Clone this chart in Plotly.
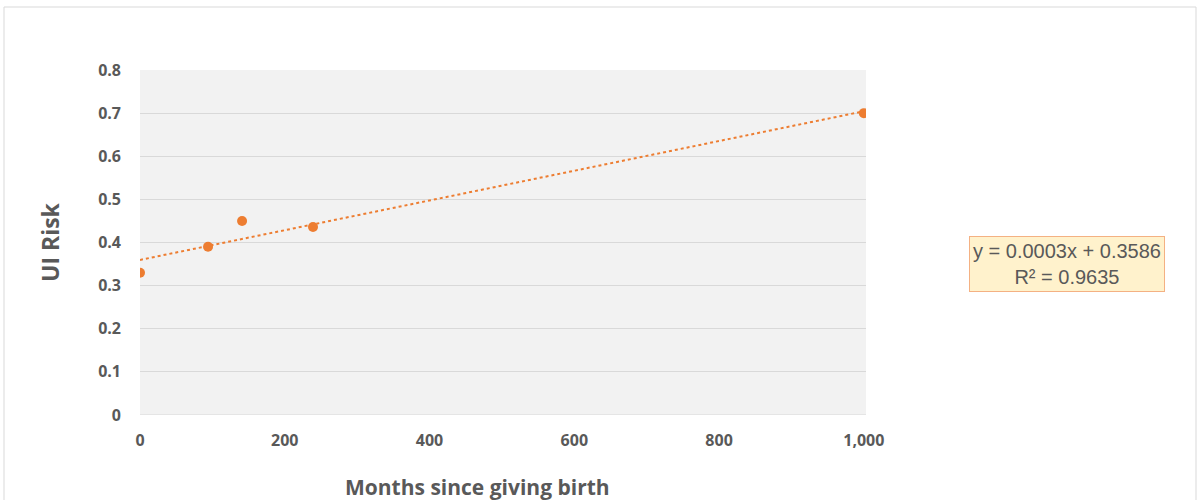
import numpy as np
import plotly.graph_objects as go

months = [0, 94, 141, 239, 1000]
ui_risk = [0.33, 0.39, 0.45, 0.436, 0.70]
x_ticks = [0, 200, 400, 600, 800, 1000]
y_ticks = [0, 0.1, 0.2, 0.3, 0.4, 0.5, 0.6, 0.7, 0.8]
y_tick_text = ["0", "0.1", "0.2", "0.3", "0.4", "0.5", "0.6", "0.7", "0.8"]
equation_text = "y = 0.0003x + 0.3586<br>R² = 0.9635"

slope, intercept = np.polyfit(months, ui_risk, 1)
trend_x = [min(months), max(months)]
trend_y = [slope * v + intercept for v in trend_x]

ORANGE = "#ED7D31"
W, H = 1200, 500
L, R, T, B = 140, 334, 70, 85
pw = W - L - R
ph = H - T - B

def px(xp):
    return (xp - L) / pw

def py(yp):
    return (H - B - yp) / ph

fig = go.Figure()
fig.add_trace(go.Scatter(x=trend_x, y=trend_y, mode="lines",
                         line=dict(color=ORANGE, width=2, dash="dot"),
                         hoverinfo="skip", showlegend=False))
fig.add_trace(go.Scatter(x=months, y=ui_risk, mode="markers",
                         marker=dict(color=ORANGE, size=10),
                         showlegend=False))

FONT = "Open Sans, Arial, sans-serif"
tick_font = dict(family=FONT, size=16, color="#595959", weight="bold")

fig.update_layout(
    width=W, height=H,
    margin=dict(l=L, r=R, t=T, b=B),
    paper_bgcolor="white",
    plot_bgcolor="#F2F2F2",
    xaxis=dict(range=[0, 1003], tickvals=x_ticks, tickformat=",d",
               showgrid=False, zeroline=False, showline=False,
               ticks="", tickfont=tick_font, ticklabelstandoff=14),
    yaxis=dict(range=[0, 0.8], tickvals=y_ticks, ticktext=y_tick_text,
               showgrid=True, gridcolor="#D9D9D9", gridwidth=1,
               zeroline=False, showline=False,
               ticks="", tickfont=tick_font, ticklabelstandoff=18),
    font=dict(family=FONT),
    shapes=[
        dict(type="rect", xref="paper", yref="paper",
             x0=px(4), x1=px(1196), y0=py(510), y1=py(7),
             line=dict(color="#D9D9D9", width=1), fillcolor="rgba(0,0,0,0)", layer="below"),
        dict(type="line", xref="paper", yref="y", x0=0, x1=1, y0=0, y1=0,
             line=dict(color="#D9D9D9", width=1), layer="below"),
    ],
    annotations=[
        dict(text="UI Risk", xref="paper", yref="paper", x=px(50), y=py(242),
             textangle=-90, showarrow=False, xanchor="center", yanchor="middle",
             font=dict(family=FONT, size=23, color="#595959", weight="bold")),
        dict(text="Months since giving birth", xref="paper", yref="paper", x=px(477), y=py(487),
             showarrow=False, xanchor="center", yanchor="middle",
             font=dict(family=FONT, size=21, color="#595959", weight="bold")),
        dict(text=equation_text, xref="paper", yref="paper", x=px(1067), y=py(264),
             showarrow=False, xanchor="center", yanchor="middle", align="center",
             bgcolor="#FFF2CC", bordercolor="#F4B183", borderwidth=1, borderpad=3,
             font=dict(family="Liberation Sans, Arial, sans-serif", size=20, color="#595959")),
    ],
)

fig.write_html("out.html", config={"displayModeBar": False},
               post_script="document.body.style.margin='0';document.body.style.overflow='hidden';")
